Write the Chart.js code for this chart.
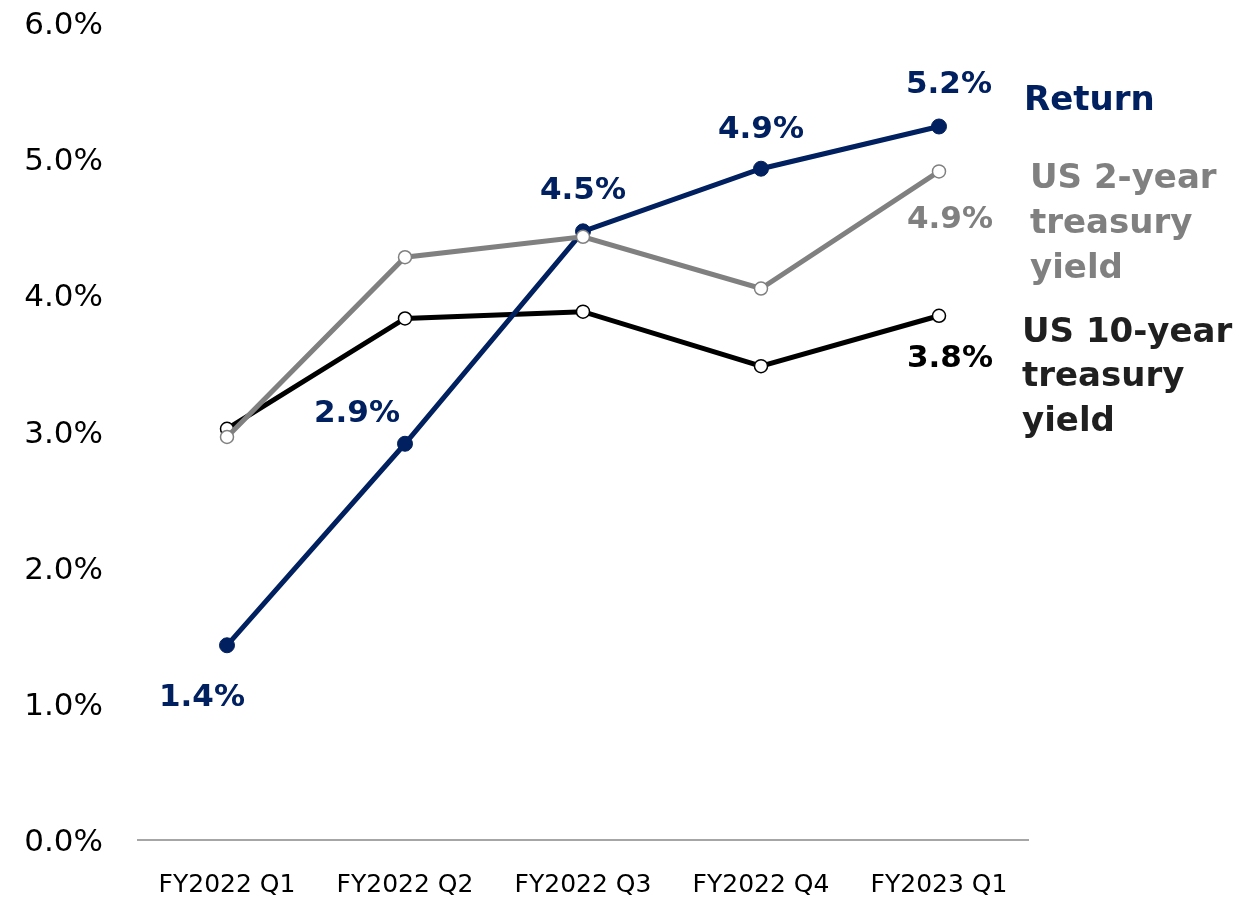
<!DOCTYPE html>
<html>
<head>
<meta charset="utf-8">
<script src="https://cdn.jsdelivr.net/npm/chart.js@4"></script>
<style>
  html, body { margin: 0; padding: 0; background: #fff; }
  #wrap { width: 1247px; height: 897px; }
</style>
</head>
<body>
<div id="wrap"><canvas id="yieldChart" width="1247" height="897"></canvas></div>
<script>
const quarters = ["FY2022 Q1", "FY2022 Q2", "FY2022 Q3", "FY2022 Q4", "FY2023 Q1"];
const returnPct = [1.43, 2.91, 4.47, 4.93, 5.24];
const us2yPct = [2.96, 4.28, 4.43, 4.05, 4.91];
const us10yPct = [3.02, 3.83, 3.88, 3.48, 3.85];
const returnLabels = ["1.4%", "2.9%", "4.5%", "4.9%", "5.2%"];
const us2yLabels = [null, null, null, null, "4.9%"];
const us10yLabels = [null, null, null, null, "3.8%"];

const FONT = "'DejaVu Sans', Verdana, sans-serif";
const NAVY = "#002060";
const GREY = "#808080";
const BLACK = "#000000";

// where each value label sits relative to its point (dx, baseline dy)
const labelOffsets = {
  ret: [[-25, 61], [-48, -22], [0, -32], [0, -31], [10, -33]],
  us2y: [null, null, null, null, [11, 57]],
  us10y: [null, null, null, null, [11, 51]]
};

// series names written to the right of the last point
const seriesNames = {
  ret: { lines: ["Return"], dx: 85, dy: -16, color: NAVY },
  us2y: { lines: ["US 2-year", "treasury", "yield"], dx: 91, dy: 17, color: GREY },
  us10y: { lines: ["US 10-year", "treasury", "yield"], dx: 83, dy: 26, color: "#1f1f1f" }
};

const labelPlugin = {
  id: "pointLabels",
  afterDatasetsDraw(chart) {
    const ctx = chart.ctx;
    ctx.save();
    chart.data.datasets.forEach((ds, i) => {
      const meta = chart.getDatasetMeta(i);
      const key = ds.key;
      ctx.fillStyle = ds.labelColor;
      ctx.font = "bold 31px " + FONT;
      ctx.textAlign = "center";
      ctx.textBaseline = "alphabetic";
      ds.valueLabels.forEach((txt, j) => {
        const off = labelOffsets[key][j];
        if (!txt || !off) return;
        const pt = meta.data[j];
        ctx.fillText(txt, pt.x + off[0], pt.y + off[1]);
      });
      const nm = seriesNames[key];
      const last = meta.data[meta.data.length - 1];
      ctx.fillStyle = nm.color;
      ctx.font = "bold 34px " + FONT;
      ctx.textAlign = "left";
      nm.lines.forEach((line, k) => {
        ctx.fillText(line, last.x + nm.dx, last.y + nm.dy + k * 44.7);
      });
    });
    ctx.restore();
  }
};

new Chart(document.getElementById("yieldChart"), {
  type: "line",
  data: {
    labels: quarters,
    datasets: [
      {
        key: "ret",
        label: "Return",
        data: returnPct,
        valueLabels: returnLabels,
        labelColor: NAVY,
        borderColor: NAVY,
        backgroundColor: NAVY,
        borderWidth: 5,
        pointRadius: 7.5,
        pointBorderWidth: 1,
        pointBackgroundColor: NAVY,
        pointBorderColor: NAVY,
        order: 1
      },
      {
        key: "us10y",
        label: "US 10-year treasury yield",
        data: us10yPct,
        valueLabels: us10yLabels,
        labelColor: BLACK,
        borderColor: BLACK,
        borderWidth: 5,
        pointRadius: 6.5,
        pointBorderWidth: 1.5,
        pointBackgroundColor: "#fff",
        pointBorderColor: BLACK,
        order: 2
      },
      {
        key: "us2y",
        label: "US 2-year treasury yield",
        data: us2yPct,
        valueLabels: us2yLabels,
        labelColor: GREY,
        borderColor: GREY,
        borderWidth: 5,
        pointRadius: 6.5,
        pointBorderWidth: 1.5,
        pointBackgroundColor: "#fff",
        pointBorderColor: GREY,
        order: 0
      }
    ]
  },
  options: {
    responsive: false,
    animation: false,
    layout: { padding: { top: 23, right: 219, bottom: 0, left: 0 } },
    plugins: {
      legend: { display: false },
      tooltip: { enabled: false }
    },
    scales: {
      x: {
        offset: true,
        grid: { display: false, drawTicks: false },
        border: { display: true, color: "#a6a6a6", width: 2 },
        ticks: {
          color: "#000",
          font: { family: FONT, size: 25 },
          padding: 30,
          maxRotation: 0
        },
        afterFit: s => { s.height = 57; s.paddingLeft = 0; s.paddingRight = 0; }
      },
      y: {
        min: 0,
        max: 6,
        grid: { display: false, drawTicks: false },
        border: { display: false },
        ticks: {
          stepSize: 1,
          color: "#000",
          font: { family: FONT, size: 31 },
          padding: 35,
          labelOffset: 3,
          callback: v => v.toFixed(1) + "%"
        },
        afterFit: s => { s.width = 138; s.paddingTop = 0; s.paddingBottom = 0; }
      }
    }
  },
  plugins: [labelPlugin]
});
</script>
</body>
</html>
